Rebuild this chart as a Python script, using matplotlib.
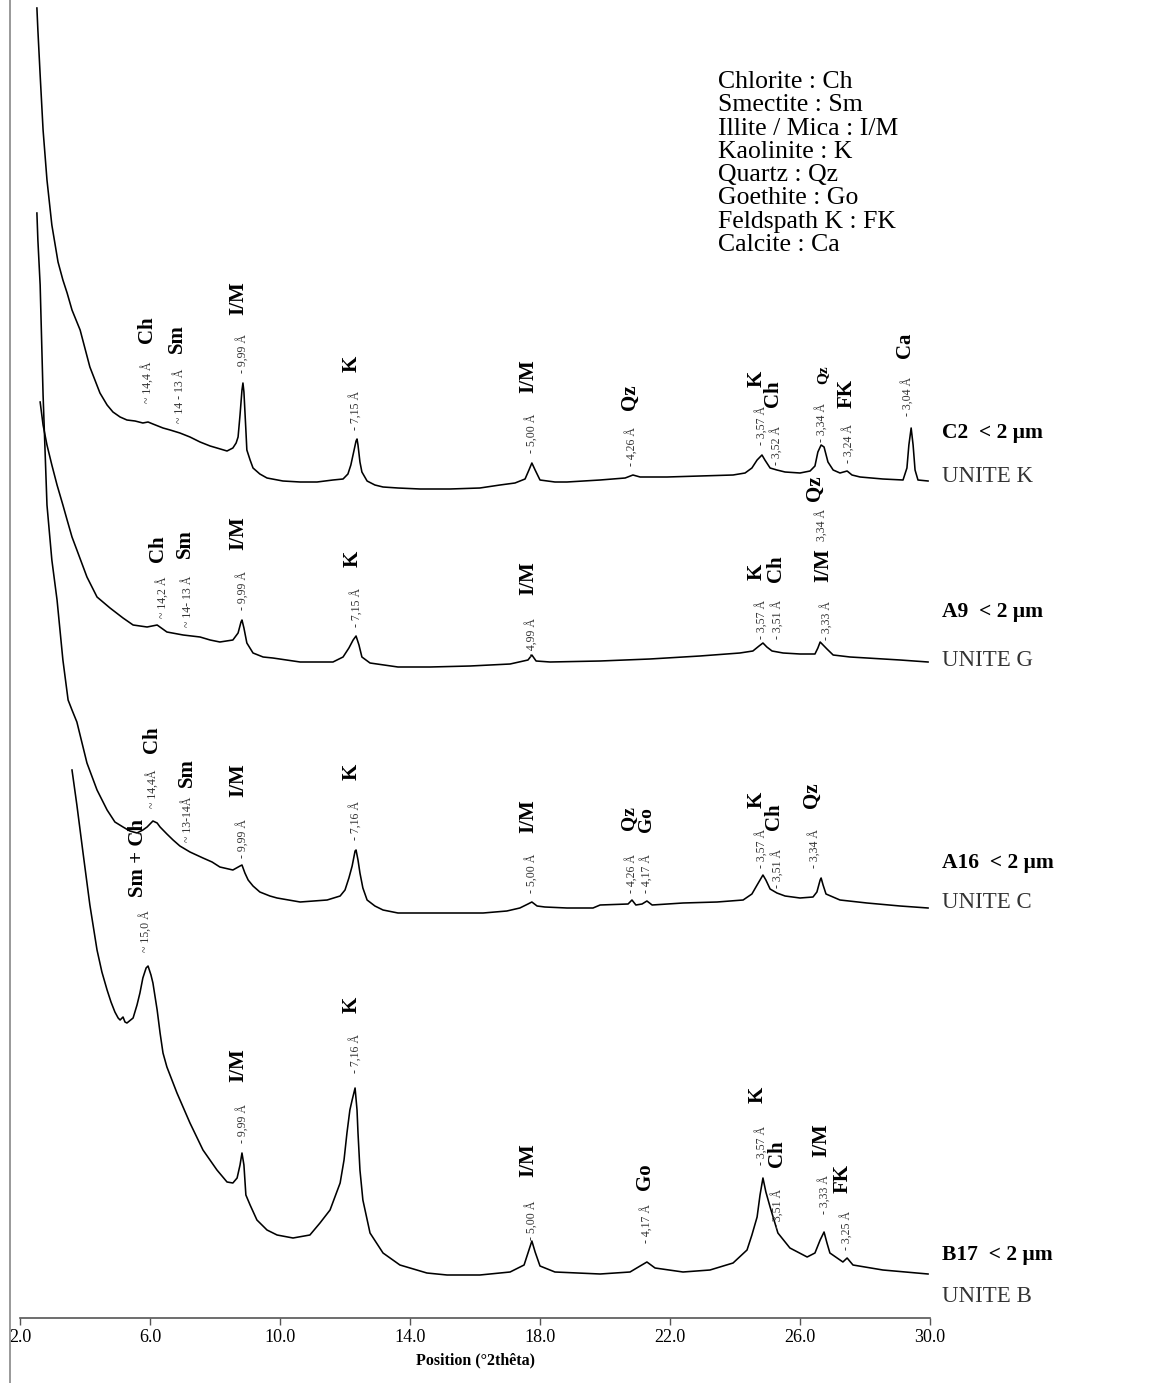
import matplotlib
matplotlib.use('Agg')
import matplotlib.pyplot as plt
from matplotlib.lines import Line2D

plt.rcParams['font.family'] = ['Liberation Serif', 'DejaVu Serif']

# ---------------- data (2-theta in degrees, relative intensity) ----------------
tt_C2 = [2.52, 2.55, 2.62, 2.71, 2.83, 2.98, 3.17, 3.32, 3.45, 3.60, 3.85, 4.15, 4.46, 4.68, 4.86,
         5.08, 5.29, 5.54, 5.78, 5.94, 6.09, 6.40, 6.62, 6.92, 7.23, 7.54, 7.85, 8.06, 8.37, 8.55,
         8.65, 8.71, 8.77, 8.83, 8.86, 8.89, 8.95, 8.98, 9.08, 9.17, 9.38, 9.60, 10.09, 10.62, 11.14,
         11.63, 11.94, 12.09, 12.18, 12.28, 12.34, 12.37, 12.40, 12.46, 12.52, 12.68, 12.92, 13.17, 13.63, 14.31,
         15.23, 16.15, 16.77, 17.23, 17.54, 17.66, 17.75, 17.85, 18.00, 18.46, 18.83, 19.85, 20.62, 20.86, 21.08,
         21.91, 22.92, 23.94, 24.31, 24.52, 24.68, 24.83, 24.92, 25.08, 25.29, 25.54, 26.00, 26.31, 26.46, 26.55,
         26.65, 26.74, 26.86, 27.02, 27.23, 27.45, 27.60, 27.85, 28.55, 29.17, 29.29, 29.35, 29.42, 29.48, 29.54,
         29.63, 29.94]
I_C2 = [482, 460, 415, 360, 310, 265, 228, 210, 197, 180, 160, 123, 97, 85, 78,
        73, 70, 69, 67, 68, 66, 62, 60, 57, 53, 48, 44, 42, 39, 42,
        47, 53, 75, 100, 107, 98, 60, 40, 30, 22, 16, 12, 9, 8, 8,
        10, 11, 16, 25, 40, 49, 51, 45, 28, 18, 9, 5, 3, 2, 1,
        1, 2, 5, 7, 11, 20, 27, 20, 10, 8, 8, 10, 12, 15, 13,
        13, 14, 15, 17, 22, 30, 35, 30, 22, 20, 18, 17, 19, 24, 38,
        45, 43, 28, 20, 17, 19, 15, 13, 11, 10, 22, 45, 62, 45, 20,
        10, 9]

tt_A9 = [2.62, 2.71, 2.83, 2.98, 3.14, 3.32, 3.45, 3.60, 3.75, 4.06, 4.37, 4.77, 5.17, 5.48, 5.91,
         6.22, 6.52, 7.02, 7.54, 7.85, 8.15, 8.55, 8.71, 8.80, 8.83, 8.89, 8.98, 9.17, 9.48, 9.78,
         10.62, 11.63, 11.94, 12.12, 12.25, 12.34, 12.43, 12.52, 12.77, 13.63, 14.62, 15.85, 17.08, 17.63, 17.75,
         17.88, 18.31, 19.85, 21.38, 22.92, 24.15, 24.55, 24.74, 24.86, 24.98, 25.14, 25.48, 26.00, 26.46, 26.55,
         26.62, 26.71, 26.83, 27.02, 27.54, 28.06, 29.08, 29.94]
I_A9 = [265, 242, 222, 202, 182, 162, 147, 130, 117, 90, 70, 59, 49, 42, 40,
        42, 35, 32, 30, 27, 25, 27, 34, 45, 47, 39, 24, 14, 10, 9,
        5, 5, 10, 19, 27, 31, 22, 10, 4, 0, 0, 1, 3, 7, 12,
        6, 5, 6, 8, 11, 14, 16, 21, 24, 20, 16, 14, 13, 13, 19,
        25, 22, 18, 12, 10, 9, 7, 5]

tt_A16 = [2.52, 2.55, 2.62, 2.71, 2.77, 2.83, 2.98, 3.14, 3.32, 3.48, 3.60, 3.75, 4.06, 4.37, 4.68,
          4.92, 5.17, 5.38, 5.60, 5.78, 5.91, 6.09, 6.22, 6.31, 6.52, 6.71, 6.92, 7.23, 7.63, 7.91,
          8.15, 8.55, 8.77, 8.83, 8.92, 9.02, 9.17, 9.38, 9.69, 9.91, 10.62, 11.45, 11.85, 12.00, 12.12,
          12.22, 12.31, 12.34, 12.40, 12.46, 12.55, 12.68, 12.92, 13.17, 13.63, 14.71, 16.25, 16.98, 17.38, 17.63,
          17.75, 17.91, 18.15, 18.83, 19.63, 19.85, 20.71, 20.83, 20.95, 21.14, 21.29, 21.45, 22.40, 23.45, 24.25,
          24.52, 24.68, 24.86, 24.95, 25.08, 25.29, 25.54, 26.00, 26.40, 26.52, 26.62, 26.65, 26.71, 26.80, 27.23,
          28.06, 29.08, 29.94]
I_A16 = [700, 673, 628, 518, 463, 408, 353, 313, 253, 213, 203, 191, 150, 123, 103,
         91, 86, 82, 80, 83, 86, 92, 90, 86, 79, 73, 67, 61, 55, 51,
         46, 43, 47, 48, 40, 33, 27, 21, 17, 15, 11, 13, 17, 23, 35,
         47, 62, 63, 53, 40, 25, 13, 7, 3, 0, 0, 0, 2, 5, 9,
         11, 7, 6, 5, 5, 8, 9, 13, 8, 9, 12, 8, 10, 11, 13,
         19, 28, 38, 33, 24, 20, 17, 15, 16, 21, 33, 35, 28, 19, 13,
         10, 7, 5]

tt_B17 = [3.60, 3.75, 3.94, 4.15, 4.37, 4.52, 4.68, 4.80, 4.92, 5.02, 5.08, 5.17, 5.23, 5.29, 5.48,
          5.60, 5.69, 5.78, 5.88, 5.94, 6.03, 6.09, 6.22, 6.31, 6.40, 6.52, 6.83, 7.23, 7.63, 8.06,
          8.37, 8.55, 8.68, 8.77, 8.83, 8.89, 8.95, 9.08, 9.29, 9.60, 9.91, 10.40, 10.92, 11.23, 11.54,
          11.85, 11.97, 12.06, 12.15, 12.22, 12.31, 12.37, 12.40, 12.46, 12.55, 12.77, 13.17, 13.69, 14.52, 15.14,
          16.15, 17.08, 17.51, 17.66, 17.75, 17.85, 18.00, 18.46, 19.85, 20.77, 21.08, 21.29, 21.54, 22.40, 23.23,
          23.94, 24.37, 24.52, 24.68, 24.77, 24.86, 24.95, 25.08, 25.32, 25.69, 26.22, 26.46, 26.62, 26.74, 26.83,
          26.92, 27.32, 27.45, 27.63, 28.55, 29.94]
I_B17 = [505, 470, 422, 370, 325, 303, 285, 273, 263, 257, 255, 258, 253, 252, 257,
         270, 282, 297, 307, 309, 300, 292, 265, 242, 222, 208, 182, 152, 125, 105,
         93, 92, 97, 110, 122, 110, 80, 70, 55, 45, 40, 37, 40, 52, 65,
         92, 115, 142, 165, 175, 187, 165, 142, 105, 75, 42, 22, 10, 2, 0,
         0, 3, 10, 25, 34, 23, 9, 3, 1, 3, 9, 13, 7, 3, 5,
         12, 25, 40, 58, 80, 97, 83, 68, 42, 27, 18, 22, 35, 43, 32,
         22, 13, 17, 10, 5, 1]

samples = ['C2  < 2 µm', 'A9  < 2 µm', 'A16  < 2 µm', 'B17  < 2 µm']
units = ['UNITE K', 'UNITE G', 'UNITE C', 'UNITE B']
legend_lines = ['Chlorite : Ch', 'Smectite : Sm', 'Illite / Mica : I/M', 'Kaolinite : K',
                'Quartz : Qz', 'Goethite : Go', 'Feldspath K : FK', 'Calcite : Ca']
xticks = [2, 6, 10, 14, 18, 22, 26, 30]
xtick_labels = ['2.0', '6.0', '10.0', '14.0', '18.0', '22.0', '26.0', '30.0']

# ---------------- layout ----------------
W, H = 1152, 1383
AX_L, AX_R, AX_B = 20, 930, 1318   # pixel positions of the plot area
fig = plt.figure(figsize=(W / 100, H / 100), dpi=100)
ax = fig.add_axes([AX_L / W, (H - AX_B) / H, (AX_R - AX_L) / W, AX_B / H])
ax.set_xlim(2, 30)
ax.set_ylim(0, AX_B)

def X(px):
    return 2 + (px - AX_L) / 32.5

def Y(py):
    return AX_B - py

offsets = [828, 651, 405, 43]
series = [(tt_C2, I_C2), (tt_A9, I_A9), (tt_A16, I_A16), (tt_B17, I_B17)]
for (tt, ii), off in zip(series, offsets):
    ax.plot(tt, [v + off for v in ii], color='black', lw=1.15, solid_joinstyle='round')

# axis styling
for s in ['top', 'right', 'left']:
    ax.spines[s].set_visible(False)
ax.spines['bottom'].set_color('#555555')
ax.spines['bottom'].set_linewidth(1.2)
ax.set_yticks([])
ax.set_xticks(xticks)
ax.set_xticklabels(xtick_labels, fontsize=13)
ax.tick_params(axis='x', direction='out', length=5, width=1, color='#555555', pad=3)
fig.text(475 / W, 1 - 1360 / H, 'Position (°2thêta)', ha='center', va='center',
         fontsize=11.5, fontweight='bold')

# peak annotations: (x px, bottom y px, text, style)
SMALL = dict(fontsize=8.5, color='#333333')
BOLD = dict(fontsize=15, fontweight='bold', color='black')
annots = [
    # C2
    (148, 403, '~ 14,4 Å', 's'), (147, 343, 'Ch', 'b'),
    (180, 423, '~ 14 - 13 Å', 's'), (177, 353, 'Sm', 'b'),
    (243, 373, '- 9,99 Å', 's'), (238, 315, 'I/M', 'b'),
    (356, 430, '- 7,15 Å', 's'), (352, 372, 'K', 'b'),
    (532, 453, '- 5,00 Å', 's'), (528, 393, 'I/M', 'b'),
    (632, 466, '- 4,26 Å', 's'), (630, 410, 'Qz', 'b'),
    (762, 445, '- 3,57 Å', 's'), (757, 387, 'K', 'b'),
    (777, 465, '- 3,52 Å', 's'), (773, 407, 'Ch', 'b'),
    (822, 442, '- 3,34 Å', 's'), (823, 384, 'Qz', 'm'),
    (849, 463, '- 3,24 Å', 's'), (847, 408, 'FK', 'b'),
    (908, 416, '- 3,04 Å', 's'), (905, 358, 'Ca', 'b'),
    # A9
    (163, 618, '~ 14,2 Å', 's'), (158, 562, 'Ch', 'b'),
    (188, 627, '~ 14- 13 Å', 's'), (185, 558, 'Sm', 'b'),
    (243, 610, '- 9,99 Å', 's'), (238, 550, 'I/M', 'b'),
    (357, 627, '- 7,15 Å', 's'), (353, 567, 'K', 'b'),
    (532, 657, '- 4,99 Å', 's'), (528, 595, 'I/M', 'b'),
    (762, 639, '- 3,57 Å', 's'), (757, 580, 'K', 'b'),
    (778, 639, '- 3,51 Å', 's'), (776, 582, 'Ch', 'b'),
    (827, 640, '- 3,33 Å', 's'), (823, 582, 'I/M', 'b'),
    (822, 541, '3,34 Å', 's'), (815, 501, 'Qz', 'b'),
    # A16
    (153, 808, '~ 14,4Å', 's'), (152, 753, 'Ch', 'b'),
    (188, 842, '~ 13-14Å', 's'), (187, 787, 'Sm', 'b'),
    (243, 858, '- 9,99 Å', 's'), (238, 797, 'I/M', 'b'),
    (356, 840, '- 7,16 Å', 's'), (352, 780, 'K', 'b'),
    (532, 893, '- 5,00 Å', 's'), (528, 833, 'I/M', 'b'),
    (632, 893, '- 4,26 Å', 's'), (629, 830, 'Qz', 'q'),
    (647, 893, '- 4,17 Å', 's'), (646, 832, 'Go', 'q'),
    (762, 868, '- 3,57 Å', 's'), (757, 808, 'K', 'b'),
    (778, 888, '- 3,51 Å', 's'), (774, 830, 'Ch', 'b'),
    (815, 868, '- 3,34 Å', 's'), (812, 808, 'Qz', 'b'),
    # B17
    (146, 952, '~ 15,0 Å', 's'), (138, 897, 'Sm + Ch', 'b'),
    (243, 1143, '- 9,99 Å', 's'), (238, 1082, 'I/M', 'b'),
    (356, 1073, '- 7,16 Å', 's'), (352, 1013, 'K', 'b'),
    (532, 1240, '- 5,00 Å', 's'), (528, 1177, 'I/M', 'b'),
    (647, 1243, '- 4,17 Å', 's'), (645, 1190, 'Go', 'b'),
    (762, 1165, '- 3,57 Å', 's'), (758, 1103, 'K', 'b'),
    (778, 1228, '- 3,51 Å', 's'), (777, 1167, 'Ch', 'b'),
    (825, 1214, '- 3,33 Å', 's'), (821, 1157, 'I/M', 'b'),
    (847, 1250, '- 3,25 Å', 's'), (843, 1193, 'FK', 'b'),
]
for px, py, txt, st in annots:
    if st == 's':
        kw = SMALL
    elif st == 'b':
        kw = BOLD
    elif st == 'q':
        kw = dict(fontsize=14, fontweight='bold', color='black')
    else:
        kw = dict(fontsize=11, fontweight='bold', color='black')
    ax.text(X(px), Y(py), txt, rotation=90, ha='center', va='bottom',
            clip_on=False, **kw)

# sample labels on the right
label_y = [433, 612, 863, 1255]
unit_y = [477, 661, 903, 1296]
for s, u, ly, uy in zip(samples, units, label_y, unit_y):
    fig.text(942 / W, 1 - ly / H, s, ha='left', va='center', fontsize=15.5, fontweight='bold')
    fig.text(942 / W, 1 - uy / H, u, ha='left', va='center', fontsize=16.5, color='#333333')

# mineral legend block
for i, line in enumerate(legend_lines):
    fig.text(718 / W, 1 - (82 + i * 23.3) / H, line, ha='left', va='center', fontsize=18.5)

# figure frame
fig.add_artist(Line2D([9.5 / W, 9.5 / W], [0, 1], transform=fig.transFigure,
                      color='#888888', lw=1.2))

fig.savefig('out.png', dpi=100)
